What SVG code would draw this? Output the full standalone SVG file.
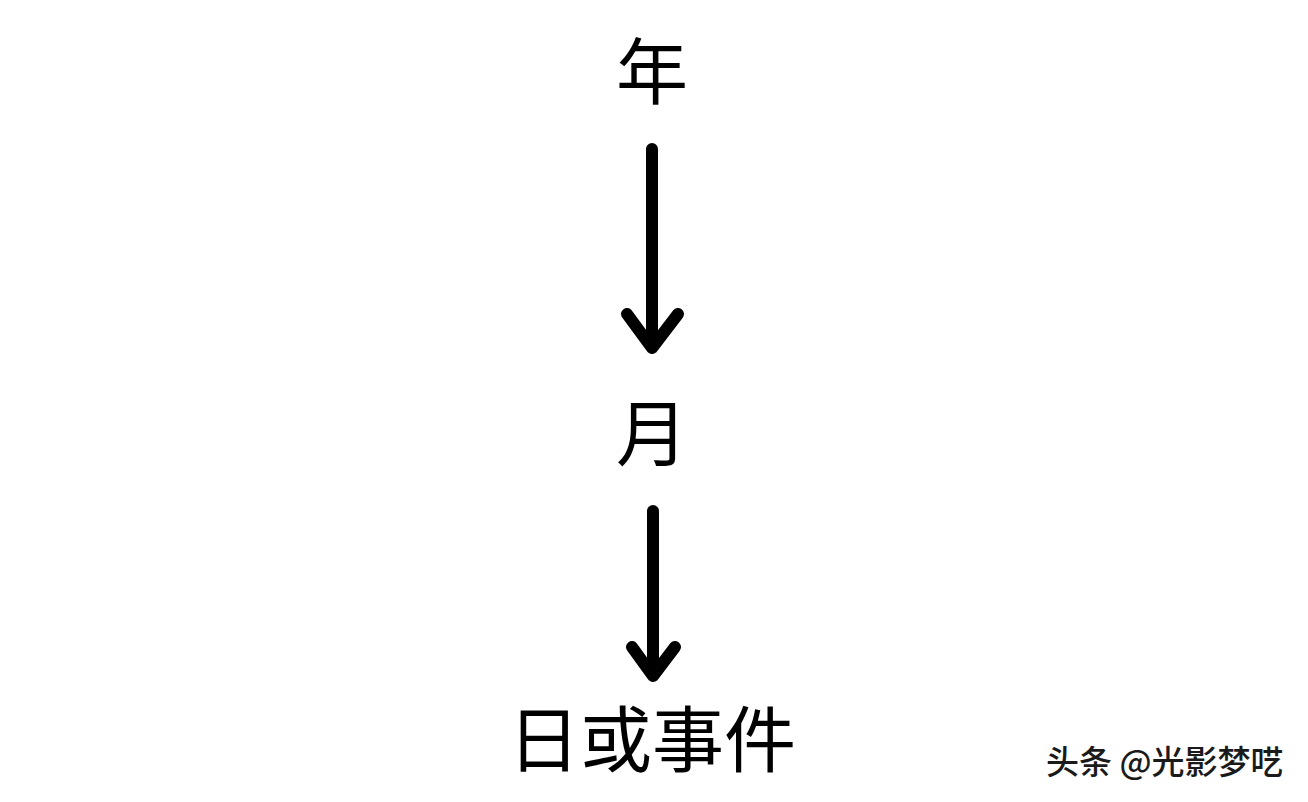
<svg xmlns="http://www.w3.org/2000/svg" width="1308" height="802" viewBox="0 0 1308 802">
<style>
.lbl{font-family:"Noto Sans CJK SC","Noto Sans CJK JP",sans-serif;font-size:72px;fill:#000;text-anchor:middle}
.wm{font-family:"Noto Sans CJK SC","Noto Sans CJK JP",sans-serif;font-size:33px;font-weight:500;fill:#1a1a1a}
.ln{stroke:#000;stroke-width:12;stroke-linecap:round;stroke-linejoin:round;fill:none}
</style>
<rect width="1308" height="802" fill="#fff"/>
<g id="node-year"><text class="lbl" x="652" y="98">年</text></g>
<g id="node-month"><text class="lbl" x="652" y="460">月</text></g>
<g id="node-day"><text class="lbl" x="652" y="766">日或事件</text></g>
<g id="connectors">
<path class="ln" d="M652 149 V348 M627 314 L652 348 L678 314"/>
<path class="ln" d="M653 511 V676 M632 647 L653 676 L675 647"/>
</g>
<text class="wm" x="1046" y="774">头条 @光影梦呓</text>
</svg>
